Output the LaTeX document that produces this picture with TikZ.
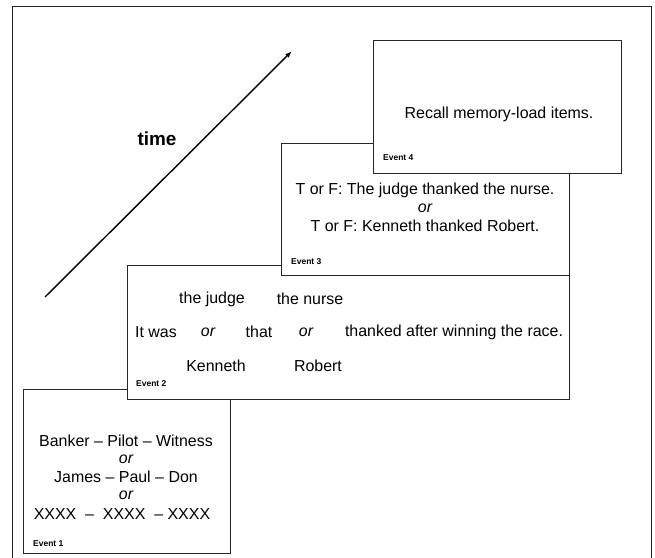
\documentclass[tikz,border=0pt]{standalone}
\usepackage{fontspec}
\setmainfont{Liberation Sans}
\usetikzlibrary{arrows.meta}
\begin{document}
\begin{tikzpicture}[x=1bp,y=-1bp,
  evbox/.style={draw=black!85, line width=0.9pt, fill=white, inner sep=0pt},
  txt/.style={inner sep=0pt, font=\fontsize{16}{18}\selectfont},
  evlab/.style={inner sep=0pt, anchor=west, font=\bfseries\fontsize{8.5}{10}\selectfont},
  ortxt/.style={inner sep=0pt, font=\itshape\fontsize{16}{18}\selectfont}]
\useasboundingbox (0,0) rectangle (655,558);
\begin{scope}
\clip (0,0) rectangle (655,558);
\draw[line width=0.9pt, draw=black!85] (12,570) -- (12,6) -- (651,6) -- (651,570);
\end{scope}
% arrow
\coordinate (a0) at (45,297);
\coordinate (a1) at (292,51);
\draw[line width=1.4pt, -{Latex[length=7pt,width=5pt]}] (a0) -- (a1);
\node[inner sep=0pt, font=\bfseries\fontsize{19}{22}\selectfont] (time) at (157,139) {time};
% Event 1
\node[evbox, minimum width=207bp, minimum height=164bp] (e1) at (126.5,471) {};
\node[txt] (b1) at (126,441) {Banker -- Pilot -- Witness};
\node[ortxt] (o1) at (126,459) {or};
\node[txt] (b2) at (126,477) {James -- Paul -- Don};
\node[ortxt] (o2) at (126,495) {or};
\node[txt] (b3) at (122,514) {XXXX\ \ --\ \ XXXX\ \ -- XXXX};
\node[evlab] (l1) at (33,544) {Event 1};
% Event 2
\node[evbox, minimum width=442bp, minimum height=134bp] (e2) at (348,332) {};
\node[txt] (j1) at (212,299) {the judge};
\node[txt] (n1) at (310,299) {the nurse};
\node[txt] (w1) at (156,332) {It was};
\node[ortxt] (w2) at (208,332) {or};
\node[txt] (w3) at (259,332) {that};
\node[ortxt] (w4) at (306,332) {or};
\node[txt] (w5) at (454,332) {thanked after winning the race.};
\node[txt] (k1) at (216,366) {Kenneth};
\node[txt] (r1) at (318,366) {Robert};
\node[evlab] (l2) at (136,384) {Event 2};
% Event 3
\node[evbox, minimum width=288bp, minimum height=132bp] (e3) at (425,209) {};
\node[txt] (t1) at (425,190) {T or F: The judge thanked the nurse.};
\node[ortxt] (t2) at (425,208) {or};
\node[txt] (t3) at (425,226) {T or F: Kenneth thanked Robert.};
\node[evlab] (l3) at (291,262) {Event 3};
% Event 4
\node[evbox, minimum width=248bp, minimum height=133bp] (e4) at (497,106.5) {};
\node[txt] (rc) at (499,114) {Recall memory-load items.};
\node[evlab] (l4) at (383,158) {Event 4};
\end{tikzpicture}
\end{document}
